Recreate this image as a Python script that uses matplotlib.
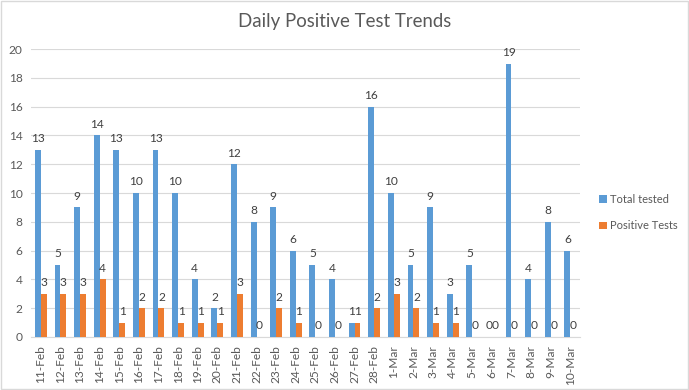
import matplotlib
matplotlib.use("Agg")
import matplotlib.pyplot as plt
import numpy as np

plt.rcParams['font.family'] = ['Lato', 'DejaVu Sans']

dates = ["11-Feb", "12-Feb", "13-Feb", "14-Feb", "15-Feb", "16-Feb", "17-Feb", "18-Feb",
         "19-Feb", "20-Feb", "21-Feb", "22-Feb", "23-Feb", "24-Feb", "25-Feb", "26-Feb",
         "27-Feb", "28-Feb", "1-Mar", "2-Mar", "3-Mar", "4-Mar", "5-Mar", "6-Mar",
         "7-Mar", "8-Mar", "9-Mar", "10-Mar"]
total_tested = [13, 5, 9, 14, 13, 10, 13, 10, 4, 2, 12, 8, 9, 6, 5, 4, 1, 16, 10, 5, 9, 3, 5, 0, 19, 4, 8, 6]
positive_tests = [3, 3, 3, 4, 1, 2, 2, 1, 1, 1, 3, 0, 2, 1, 0, 0, 1, 2, 3, 2, 1, 1, 0, 0, 0, 0, 0, 0]

blue = "#5B9BD5"
orange = "#ED7D31"
txt = "#404040"
tick_c = "#595959"

fig = plt.figure(figsize=(6.89, 3.90), dpi=100)
ax = fig.add_axes([0.045, 0.136, 0.797, 0.738])

x = np.arange(len(dates))
w = 0.3
b1 = ax.bar(x - w/2, total_tested, w, color=blue, label="Total tested", zorder=3)
b2 = ax.bar(x + w/2, positive_tests, w, color=orange, label="Positive Tests", zorder=3)

for rect, v in zip(b1, total_tested):
    ax.annotate(str(v), (rect.get_x() + rect.get_width()/2, v), xytext=(0, 4),
                textcoords="offset points", ha="center", va="bottom", fontsize=8.6, color=txt)
for rect, v in zip(b2, positive_tests):
    ax.annotate(str(v), (rect.get_x() + rect.get_width()/2, v), xytext=(0, 4),
                textcoords="offset points", ha="center", va="bottom", fontsize=8.6, color=txt)

ax.set_xlim(-0.5, len(dates) - 0.5)
ax.set_ylim(0, 20)
ax.set_yticks(range(0, 21, 2))
ax.set_xticks(x)
ax.set_xticklabels(dates, rotation=90, fontsize=8.6, color=tick_c)
ax.tick_params(axis='y', labelsize=8.6, colors=tick_c, length=0, pad=6)
ax.tick_params(axis='x', length=0, pad=6)
ax.grid(axis='y', color="#D9D9D9", linewidth=0.8, zorder=0)
for s in ["top", "right", "left"]:
    ax.spines[s].set_visible(False)
ax.spines["bottom"].set_color("#D9D9D9")

fig.text(0.5, 0.945, "Daily Positive Test Trends", ha="center", va="center",
         fontsize=13.4, color=tick_c)

leg = fig.legend(handles=[b1, b2], labels=["Total tested", "Positive Tests"],
                 loc="center left", bbox_to_anchor=(0.855, 0.455), frameon=False,
                 fontsize=8, handlelength=0.7, handleheight=0.7, labelspacing=1.4,
                 handletextpad=0.3)
for t in leg.get_texts():
    t.set_color(tick_c)

border = plt.Rectangle((0.002, 0.003), 0.996, 0.994, transform=fig.transFigure,
                       fill=False, edgecolor="#D9D9D9", linewidth=1)
fig.patches.append(border)

fig.savefig("out.png", dpi=100)
